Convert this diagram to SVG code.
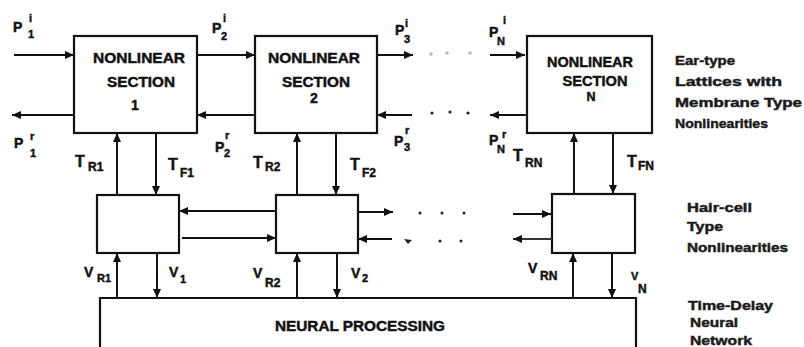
<svg xmlns="http://www.w3.org/2000/svg" width="804" height="347" viewBox="0 0 804 347">
<style>
.box{fill:#fff;stroke:#111;stroke-width:2.2}
.ln{stroke:#111;stroke-width:2;fill:none}
.t{font-family:"Liberation Sans",Arial,sans-serif;font-weight:bold;fill:#111;stroke:#111;stroke-width:0.45}
.c{text-anchor:middle;font-size:14px}
.p{font-size:14px}
.s{font-size:11px}
.T{font-size:16px}
.ts{font-size:12px}
.r{font-size:13px;fill:#1a1a1a;stroke:#1a1a1a}
.dot{fill:#222}
.fd{fill:#bbb}
</style>
<defs>
<marker id="ah" markerUnits="userSpaceOnUse" markerWidth="9" markerHeight="8" refX="9" refY="4" orient="auto">
<path d="M0,0 L9,4 L0,8 z" fill="#111"/>
</marker>
</defs>

<g id="section1">
<rect class="box" x="74" y="36" width="123" height="97"/>
<text class="t c" x="139" y="63" textLength="92" lengthAdjust="spacingAndGlyphs">NONLINEAR</text>
<text class="t c" x="141" y="87" textLength="68" lengthAdjust="spacingAndGlyphs">SECTION</text>
<text class="t c" x="135" y="110">1</text>
</g>
<g id="section2">
<rect class="box" x="255" y="36" width="122" height="97"/>
<text class="t c" x="314" y="63" textLength="92" lengthAdjust="spacingAndGlyphs">NONLINEAR</text>
<text class="t c" x="316" y="87" textLength="68" lengthAdjust="spacingAndGlyphs">SECTION</text>
<text class="t c" x="314" y="103">2</text>
</g>
<g id="sectionN">
<rect class="box" x="527" y="36" width="125" height="97"/>
<text class="t c" x="590" y="67" textLength="86" lengthAdjust="spacingAndGlyphs">NONLINEAR</text>
<text class="t c" x="595" y="86" textLength="65" lengthAdjust="spacingAndGlyphs">SECTION</text>
<text class="t c" x="591" y="101" style="font-size:12.5px">N</text>
</g>
<g id="haircell1">
<rect class="box" x="97" y="195" width="82" height="58"/>
</g>
<g id="haircell2">
<rect class="box" x="276" y="195" width="82" height="58"/>
</g>
<g id="haircellN">
<rect class="box" x="552" y="194" width="83" height="59"/>
</g>
<g id="neural">
<path class="box" d="M100,352 V298 H636 V352"/>
<text class="t" x="275" y="331" style="font-size:14px" textLength="170" lengthAdjust="spacingAndGlyphs">NEURAL PROCESSING</text>
</g>

<g id="connectors">
<path class="ln" d="M14,55 H74" marker-end="url(#ah)"/>
<path class="ln" d="M74,115 H12" marker-end="url(#ah)"/>
<path class="ln" d="M197,55 H255" marker-end="url(#ah)"/>
<path class="ln" d="M255,115 H197" marker-end="url(#ah)"/>
<path class="ln" d="M377,55 H413" marker-end="url(#ah)"/>
<path class="ln" d="M412,115 H377" marker-end="url(#ah)"/>
<path class="ln" d="M490,55 H525" marker-end="url(#ah)"/>
<path class="ln" d="M527,115 H490" marker-end="url(#ah)"/>
<circle class="fd" cx="431" cy="54" r="1.8"/>
<circle class="fd" cx="447" cy="53" r="1.8"/>
<circle class="fd" cx="470" cy="53" r="1.8"/>
<circle class="dot" cx="432" cy="113" r="1.6"/>
<circle class="dot" cx="450" cy="112" r="1.6"/>
<circle class="dot" cx="468" cy="113" r="1.6"/>

<path class="ln" d="M117,195 V133" marker-end="url(#ah)"/>
<path class="ln" d="M156,133 V195" marker-end="url(#ah)"/>
<path class="ln" d="M297,195 V133" marker-end="url(#ah)"/>
<path class="ln" d="M336,133 V195" marker-end="url(#ah)"/>
<path class="ln" d="M574,194 V133" marker-end="url(#ah)"/>
<path class="ln" d="M613,133 V194" marker-end="url(#ah)"/>

<path class="ln" d="M276,211 H179" marker-end="url(#ah)"/>
<path class="ln" d="M182,238 H276" marker-end="url(#ah)"/>
<path class="ln" d="M358,212 H393" marker-end="url(#ah)"/>
<path class="ln" d="M392,239 H358" marker-end="url(#ah)"/>
<circle class="dot" cx="420" cy="213" r="1.5"/>
<circle class="dot" cx="442" cy="213" r="1.5"/>
<circle class="dot" cx="464" cy="213" r="1.5"/>
<path d="M404,239 L412,240 L408,244 z" fill="#222"/>
<circle class="dot" cx="440" cy="241" r="1.5"/>
<circle class="dot" cx="461" cy="241" r="1.5"/>
<path class="ln" d="M513,214 H551" marker-end="url(#ah)"/>
<path class="ln" d="M552,239 H513" marker-end="url(#ah)" style="stroke:#333"/>

<path class="ln" d="M117,298 V253" marker-end="url(#ah)"/>
<path class="ln" d="M157,253 V298" marker-end="url(#ah)"/>
<path class="ln" d="M297,298 V253" marker-end="url(#ah)"/>
<path class="ln" d="M337,253 V298" marker-end="url(#ah)"/>
<path class="ln" d="M573,298 V253" marker-end="url(#ah)"/>
<path class="ln" d="M612,253 V298" marker-end="url(#ah)"/>
</g>

<g id="labels-p">
<text class="t p" x="13" y="32">P</text><text class="t s" x="29" y="22">i</text><text class="t s" x="28" y="38">1</text>
<text class="t p" x="212" y="33">P</text><text class="t s" x="223" y="22">i</text><text class="t s" x="221" y="40">2</text>
<text class="t p" x="395" y="35">P</text><text class="t s" x="405" y="27">i</text><text class="t s" x="404" y="43">3</text>
<text class="t p" x="489" y="37">P</text><text class="t s" x="503" y="24">i</text><text class="t s" x="497" y="45">N</text>
<text class="t p" x="14" y="148">P</text><text class="t s" x="30" y="140">r</text><text class="t s" x="30" y="157">1</text>
<text class="t p" x="215" y="152">P</text><text class="t s" x="225" y="139">r</text><text class="t s" x="224" y="157">2</text>
<text class="t p" x="394" y="146">P</text><text class="t s" x="405" y="134">r</text><text class="t s" x="404" y="151">3</text>
<text class="t p" x="489" y="145">P</text><text class="t s" x="502" y="138">r</text><text class="t s" x="497" y="153">N</text>
</g>
<g id="labels-t">
<text class="t T" x="75" y="167">T</text><text class="t ts" x="88" y="171">R1</text>
<text class="t T" x="168" y="170">T</text><text class="t ts" x="180" y="177">F1</text>
<text class="t T" x="253" y="168">T</text><text class="t ts" x="265" y="171">R2</text>
<text class="t T" x="350" y="170">T</text><text class="t ts" x="362" y="177">F2</text>
<text class="t T" x="513" y="161">T</text><text class="t ts" x="525" y="167">RN</text>
<text class="t T" x="627" y="167">T</text><text class="t ts" x="638" y="170">FN</text>
</g>
<g id="labels-v">
<text class="t p" x="84" y="277">V</text><text class="t s" x="97" y="282">R1</text>
<text class="t p" x="169" y="277">V</text><text class="t s" x="180" y="283">1</text>
<text class="t p" x="253" y="278">V</text><text class="t ts" x="265" y="287">R2</text>
<text class="t p" x="351" y="278">V</text><text class="t s" x="362" y="282">2</text>
<text class="t p" x="528" y="273">V</text><text class="t ts" x="540" y="280">RN</text>
<text class="t s" x="631" y="280">V</text><text class="t ts" x="638" y="293">N</text>
</g>
<g id="side-labels">
<text class="t r" x="675" y="65" textLength="60" lengthAdjust="spacingAndGlyphs">Ear-type</text>
<text class="t r" x="675" y="86" textLength="107" lengthAdjust="spacingAndGlyphs">Lattices with</text>
<text class="t r" x="675" y="107" textLength="127" lengthAdjust="spacingAndGlyphs">Membrane Type</text>
<text class="t r" x="675" y="128" textLength="93" lengthAdjust="spacingAndGlyphs">Nonlinearities</text>
<text class="t r" x="687" y="212" textLength="65" lengthAdjust="spacingAndGlyphs">Hair-cell</text>
<text class="t r" x="687" y="231" textLength="36" lengthAdjust="spacingAndGlyphs">Type</text>
<text class="t r" x="687" y="252" textLength="101" lengthAdjust="spacingAndGlyphs">Nonlinearities</text>
<text class="t r" x="688" y="310" textLength="85" lengthAdjust="spacingAndGlyphs">Time-Delay</text>
<text class="t r" x="690" y="327" textLength="48" lengthAdjust="spacingAndGlyphs">Neural</text>
<text class="t r" x="690" y="345" textLength="62" lengthAdjust="spacingAndGlyphs">Network</text>
</g>
</svg>
